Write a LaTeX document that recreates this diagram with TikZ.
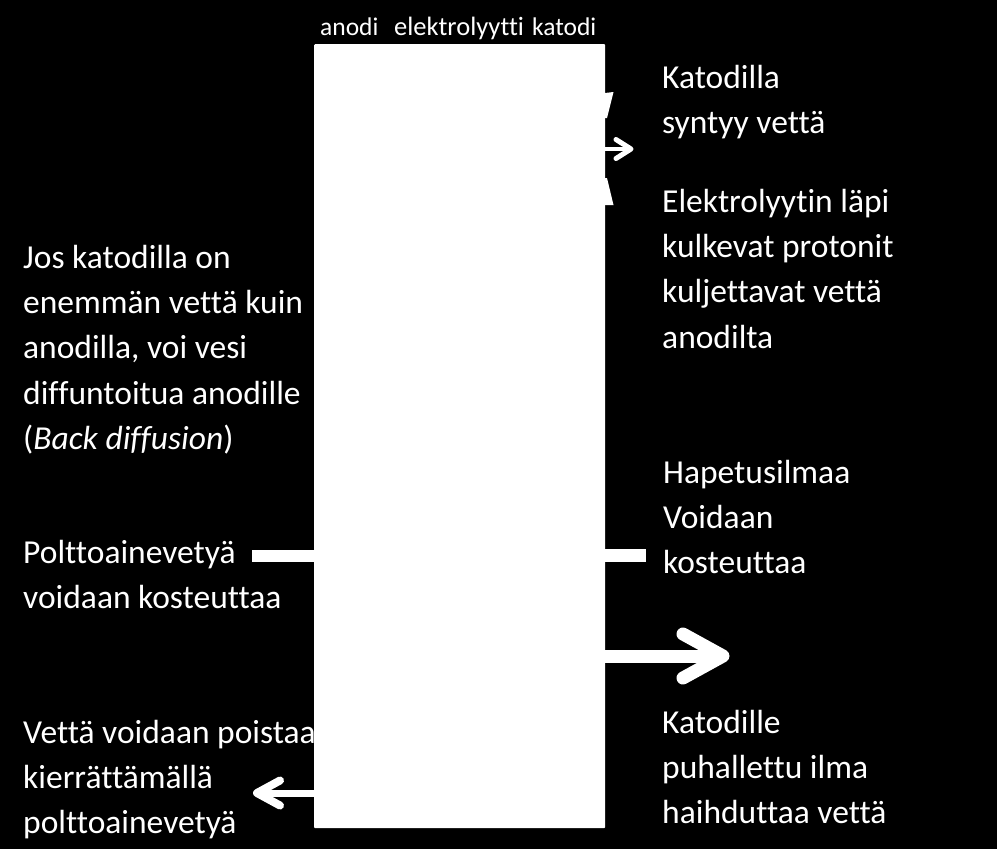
\documentclass[tikz,border=0pt]{standalone}
\usepackage{fontspec}
\setmainfont{Carlito}[Ligatures=NoCommon]
\newcommand{\topstrut}{\rule{0pt}{27pt}}
\begin{document}
\begin{tikzpicture}[x=1pt,y=-1pt,
  lbl/.style={text=white,inner sep=0pt,anchor=north west,align=left,font=\fontsize{33.5}{45.3}\selectfont,yshift=27pt},
  toplbl/.style={text=white,inner sep=0pt,anchor=base west,font=\fontsize{25.5}{30}\selectfont},
  wline/.style={draw=white,line cap=butt},
  chev/.style={draw=white,line cap=round,line join=round}]
\fill[black] (0,0) rectangle (997,849);
\useasboundingbox (0,0) rectangle (997,849);
% texts
\node[toplbl] (tanodi) at (320,35) {anodi};
\node[toplbl,font=\fontsize{26.5}{30}\selectfont] (telek) at (394,35) {elektrolyytti};
\node[toplbl] (tkatodi) at (532,35) {katodi};
\node[lbl] (t1) at (662,88) {\topstrut Katodilla\\syntyy vettä};
\node[lbl] (t2) at (662,212) {\topstrut Elektrolyytin läpi\\kulkevat protonit\\kuljettavat vettä\\anodilta};
\node[lbl] (t3) at (23,268) {\topstrut Jos katodilla on\\enemmän vettä kuin\\anodilla, voi vesi\\diffuntoitua anodille\\(\textit{Back diffusion})};
\node[lbl] (t4) at (23,563) {\topstrut Polttoainevetyä\\voidaan kosteuttaa};
\node[lbl] (t5) at (663,483) {\topstrut Hapetusilmaa\\Voidaan\\kosteuttaa};
\node[lbl] (t6) at (662,733) {\topstrut Katodille\\puhallettu ilma\\haihduttaa vettä};
\node[lbl] (t7) at (23,743) {\topstrut Vettä voidaan poistaa\\kierrättämällä\\polttoainevetyä};
% cell
\node[fill=white,draw=none,inner sep=0pt,minimum width=291pt,minimum height=784pt,anchor=north west,rounded corners=1pt] (cell) at (314,44) {};
% small arrow top right
\coordinate (a1) at (631,149);
\draw[wline,line width=4] (cell.east |- a1) -- (a1);
\draw[chev,line width=5] (616,139.5) -- (a1) -- (616,158.5);
\fill[white] (605,93) -- (613.5,92) -- (607,118) -- (605,118) -- cycle;
\fill[white] (605,178) -- (607,178) -- (613.5,205) -- (605,205) -- cycle;
% bars
\coordinate (b1) at (252,556);
\draw[wline,line width=12] (cell.west |- b1) -- (b1);
\coordinate (b2) at (646,555.5);
\draw[wline,line width=13] (cell.east |- b2) -- (b2);
% big arrow
\coordinate (a2) at (723,656);
\draw[wline,line width=13] (cell.east |- a2) -- ([xshift=-4]a2);
\draw[chev,line width=13] (683,634) -- (a2) -- (683,678);
% bottom left arrow
\coordinate (a3) at (257,793);
\draw[wline,line width=7] (cell.west |- a3) -- ([xshift=3]a3);
\draw[chev,line width=8] (280,780.5) -- (a3) -- (280,805.5);
\end{tikzpicture}
\end{document}
